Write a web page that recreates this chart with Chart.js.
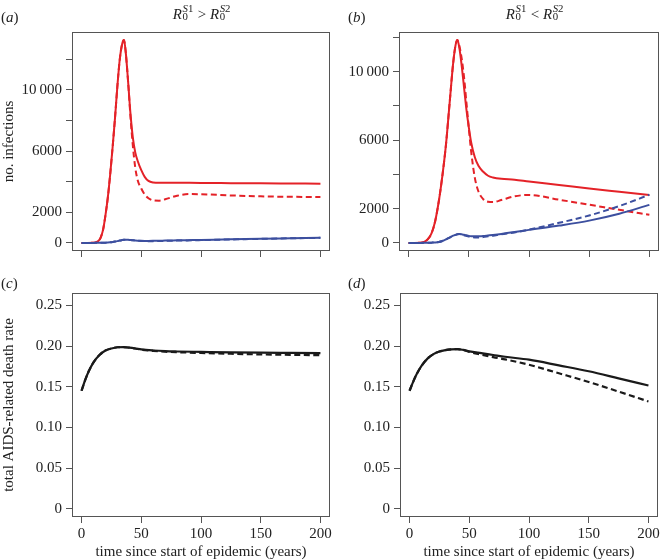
<!DOCTYPE html>
<html>
<head>
<meta charset="utf-8">
<title>HIV strain competition</title>
<script src="https://cdn.jsdelivr.net/npm/chart.js@4.4.1/dist/chart.umd.min.js"></script>
<style>
  html, body { margin: 0; padding: 0; background: #fff; overflow: hidden; }
  #page { position: relative; width: 660px; height: 560px; overflow: hidden;
          font-family: 'Liberation Serif', 'Times New Roman', serif; color: #222; }
  canvas { position: absolute; }
  .tag { position: absolute; font-size: 15px; line-height: 15px; }
  .ttl { position: absolute; top: 7px; font-size: 15px; line-height: 15px;
         white-space: nowrap; transform: translateX(-50%); }
  .st { display: inline-block; position: relative; width: 12px; height: 10px; }
  .st span { position: absolute; left: 0.5px; font-size: 10.8px; line-height: 10.8px; }
  .st .up { bottom: 5px; }
  .st .dn { bottom: -3px; }
</style>
</head>
<body>
<div id="page">
  <canvas id="chartA" width="345" height="270" style="left:0;top:0"></canvas>
  <canvas id="chartB" width="335" height="270" style="left:330px;top:0"></canvas>
  <canvas id="chartC" width="345" height="290" style="left:0;top:270px"></canvas>
  <canvas id="chartD" width="335" height="290" style="left:330px;top:270px"></canvas>

  <div class="tag" style="left:1px;top:10px">(<i>a</i>)</div>
  <div class="tag" style="left:348px;top:10px">(<i>b</i>)</div>
  <div class="tag" style="left:1px;top:276px">(<i>c</i>)</div>
  <div class="tag" style="left:348px;top:276px">(<i>d</i>)</div>

  <div class="ttl" style="left:202px"><i>R</i><span class="st"><span class="up"><i>S</i>1</span><span class="dn">0</span></span> &gt; <i>R</i><span class="st"><span class="up"><i>S</i>2</span><span class="dn">0</span></span></div>
  <div class="ttl" style="left:535px"><i>R</i><span class="st"><span class="up"><i>S</i>1</span><span class="dn">0</span></span> &lt; <i>R</i><span class="st"><span class="up"><i>S</i>2</span><span class="dn">0</span></span></div>
</div>

<script>
// ---------------------------------------------------------------
// DATA
// ---------------------------------------------------------------
const xTicks = [0, 50, 100, 150, 200];
const yTicksTop = [0, 2000, 4000, 6000, 8000, 10000, 12000];
const yLabelledTop = [0, 2000, 6000, 10000];
const yTicksDeath = [0, 0.05, 0.10, 0.15, 0.20, 0.25];

// panel (a): R0 S1 > R0 S2
const yearsA = [0, 5, 10, 12, 14, 16, 18, 20, 22, 24, 26, 28, 30, 32, 34, 35.5, 37, 39, 41, 43,
                45, 47, 50, 53, 56, 60, 65, 70, 80, 90, 100, 125, 150, 175, 200];
const redSolidA = [0, 0, 10, 35, 120, 350, 850, 1800, 2970, 4500, 6250, 8150, 10250, 12000, 13000, 13250, 12450, 10500, 8400, 6850,
                   5900, 5350, 4750, 4300, 4050, 3950, 3930, 3930, 3930, 3925, 3920, 3905, 3890, 3880, 3870];
const redDashA = [0, 0, 10, 35, 120, 350, 850, 1800, 2970, 4500, 6250, 8150, 10250, 12000, 13000, 13250, 12450, 10500, 8200, 6300,
                  4900, 4100, 3550, 3150, 2920, 2780, 2760, 2850, 3080, 3190, 3180, 3100, 3040, 3010, 3000];
const blueSolidA = [0, 0, 0, 2, 4, 6, 10, 15, 25, 40, 60, 85, 115, 150, 185, 205, 210, 200, 185, 170,
                    155, 145, 135, 130, 130, 133, 140, 150, 165, 180, 195, 235, 270, 300, 330];
const blueDashA = [0, 0, 0, 2, 4, 6, 10, 15, 25, 40, 60, 85, 115, 150, 185, 205, 210, 200, 185, 165,
                   148, 135, 122, 115, 113, 115, 120, 130, 148, 165, 182, 225, 265, 300, 330];

// panel (b): R0 S1 < R0 S2
const yearsB = [0, 5, 10, 13, 16, 19, 22, 25, 28, 31, 34, 37, 39, 40.5, 42, 44, 46, 48, 50, 52,
                55, 58, 62, 66, 70, 77, 88, 100, 125, 150, 175, 200];
const redSolidB = [0, 0, 10, 60, 220, 550, 1250, 2400, 3900, 5720, 8120, 10500, 11550, 11840, 11450, 10400, 9100, 7800, 6750, 5850,
                   5000, 4500, 4150, 3920, 3820, 3740, 3690, 3580, 3380, 3170, 2980, 2790];
const redDashB = [0, 0, 10, 60, 220, 550, 1250, 2400, 3900, 5720, 8120, 10500, 11550, 11840, 11550, 10800, 9700, 8200, 6700, 5300,
                  3800, 3000, 2550, 2400, 2380, 2500, 2720, 2800, 2520, 2230, 1930, 1640];
const blueSolidB = [0, 0, 0, 3, 8, 15, 25, 50, 110, 200, 310, 420, 470, 500, 515, 500, 470, 440, 410, 390,
                    380, 385, 400, 430, 460, 520, 630, 760, 1010, 1300, 1700, 2220];
const blueDashB = [0, 0, 0, 3, 8, 15, 25, 50, 110, 200, 310, 420, 470, 500, 515, 490, 450, 405, 365, 340,
                   320, 320, 340, 380, 420, 500, 610, 770, 1170, 1600, 2150, 2810];

// panels (c) and (d): total AIDS-related death rate
const yearsDeath = [0, 3, 6, 10, 15, 20, 25, 30, 35, 40, 45, 50, 60, 70, 80, 100, 125, 150, 175, 200];
const deathSolidC = [0.145, 0.158, 0.169, 0.180, 0.189, 0.1945, 0.197, 0.1985, 0.1987, 0.198,
                     0.197, 0.1958, 0.1945, 0.1937, 0.1933, 0.1928, 0.1922, 0.1918, 0.1915, 0.1912];
const deathDashC = [0.145, 0.158, 0.169, 0.180, 0.189, 0.1945, 0.197, 0.1985, 0.1987, 0.198,
                    0.197, 0.1955, 0.1940, 0.1930, 0.1924, 0.1915, 0.1905, 0.1897, 0.1892, 0.1888];
const deathSolidD = [0.145, 0.156, 0.1655, 0.1755, 0.1845, 0.190, 0.1932, 0.195, 0.196, 0.1962,
                     0.1952, 0.1935, 0.1912, 0.1890, 0.1868, 0.1832, 0.1762, 0.169, 0.1603, 0.1515];
const deathDashD = [0.145, 0.156, 0.1655, 0.1755, 0.1845, 0.190, 0.1932, 0.195, 0.196, 0.1962,
                    0.195, 0.1928, 0.1895, 0.1864, 0.1836, 0.1770, 0.1665, 0.1558, 0.1440, 0.1318];

// ---------------------------------------------------------------
// STYLE
// ---------------------------------------------------------------
const FONT = "'Liberation Serif', 'Times New Roman', serif";
const TXT = '#222';
const AXIS = '#555';
const RED = '#e42228';
const BLUE = '#3c4f9f';
const BLACK = '#1a1a1a';

// frame round the plotting region, like R's box()
const boxPlugin = {
  id: 'box',
  afterDraw(chart) {
    const { ctx, chartArea: a } = chart;
    ctx.save();
    ctx.strokeStyle = AXIS;
    ctx.lineWidth = 1;
    ctx.strokeRect(Math.round(a.left) + 0.5, Math.round(a.top) + 0.5,
                   Math.round(a.right - a.left) - 1, Math.round(a.bottom - a.top) - 1);
    ctx.restore();
  }
};

function pts(xs, ys) {
  return xs.map((x, i) => ({ x: x, y: ys[i] }));
}

function line(xs, ys, color, dashed, width) {
  return {
    data: pts(xs, ys),
    borderColor: color,
    borderWidth: width,
    borderDash: dashed ? [6, 3.5] : [],
    fill: false
  };
}

function fmtCount(v) {
  if (!yLabelledTop.includes(v)) return '';
  if (v >= 10000) return Math.floor(v / 1000) + '\u2009' + String(v % 1000).padStart(3, '0');
  return String(v);
}

function fmtRate(v) {
  return v === 0 ? '0' : v.toFixed(2);
}

function drawPanel(id, cfg) {
  const el = document.getElementById(id);
  return new Chart(el, {
    type: 'line',
    data: { datasets: cfg.datasets },
    options: {
      responsive: false,
      animation: false,
      events: [],
      layout: { padding: cfg.pad },
      plugins: { legend: { display: false }, tooltip: { enabled: false } },
      elements: {
        point: { radius: 0 },
        line: { cubicInterpolationMode: 'monotone', borderCapStyle: 'butt' }
      },
      scales: {
        x: {
          type: 'linear', min: -8, max: 208,
          afterBuildTicks: s => { s.ticks = xTicks.map(v => ({ value: v })); },
          afterFit: s => { s.height = cfg.xHeight; },
          grid: { drawOnChartArea: false, tickLength: 6, color: AXIS, tickColor: AXIS },
          border: { display: false },
          ticks: { display: cfg.xLabels, padding: 2, maxRotation: 0, color: TXT,
                   font: { family: FONT, size: 15 } },
          title: { display: !!cfg.xTitle, text: cfg.xTitle || '', color: TXT, padding: 0,
                   font: { family: FONT, size: 15, lineHeight: 1 } }
        },
        y: {
          type: 'linear', min: cfg.yMin, max: cfg.yMax,
          afterBuildTicks: s => { s.ticks = cfg.yTicks.map(v => ({ value: v })); },
          afterFit: s => { s.width = cfg.yWidth; },
          grid: { drawOnChartArea: false, tickLength: 6, color: AXIS, tickColor: AXIS },
          border: { display: false },
          ticks: { padding: 4, color: TXT, callback: cfg.yFmt,
                   font: { family: FONT, size: 15 } },
          title: { display: !!cfg.yTitle, text: cfg.yTitle || '', color: TXT,
                   padding: { top: 2, bottom: 0 },
                   font: { family: FONT, size: 15, lineHeight: 1 } }
        }
      }
    },
    plugins: [boxPlugin]
  });
}

// ---------------------------------------------------------------
// PANELS
// ---------------------------------------------------------------
drawPanel('chartA', {
  pad: { top: 32, right: 15, left: 0, bottom: 0 },
  yWidth: 72, xHeight: 19, xLabels: false,
  yMin: -530, yMax: 13780, yTicks: yTicksTop, yFmt: fmtCount,
  yTitle: 'no. infections',
  datasets: [
    line(yearsA, blueDashA, BLUE, true, 2),
    line(yearsA, blueSolidA, BLUE, false, 2),
    line(yearsA, redDashA, RED, true, 2),
    line(yearsA, redSolidA, RED, false, 2)
  ]
});

drawPanel('chartB', {
  pad: { top: 32, right: 6, left: 0, bottom: 0 },
  yWidth: 69, xHeight: 19, xLabels: false,
  yMin: -474, yMax: 12314, yTicks: yTicksTop, yFmt: fmtCount,
  datasets: [
    line(yearsB, blueDashB, BLUE, true, 2),
    line(yearsB, blueSolidB, BLUE, false, 2),
    line(yearsB, redDashB, RED, true, 2),
    line(yearsB, redSolidB, RED, false, 2)
  ]
});

drawPanel('chartC', {
  pad: { top: 23, right: 15, left: 0, bottom: 0 },
  yWidth: 72, xHeight: 43, xLabels: true,
  yMin: -0.0102, yMax: 0.2652, yTicks: yTicksDeath, yFmt: fmtRate,
  yTitle: 'total AIDS-related death rate',
  xTitle: 'time since start of epidemic (years)',
  datasets: [
    line(yearsDeath, deathDashC, BLACK, true, 2.2),
    line(yearsDeath, deathSolidC, BLACK, false, 2.2)
  ]
});

drawPanel('chartD', {
  pad: { top: 23, right: 7, left: 0, bottom: 0 },
  yWidth: 70, xHeight: 43, xLabels: true,
  yMin: -0.0102, yMax: 0.2652, yTicks: yTicksDeath, yFmt: fmtRate,
  xTitle: 'time since start of epidemic (years)',
  datasets: [
    line(yearsDeath, deathDashD, BLACK, true, 2.2),
    line(yearsDeath, deathSolidD, BLACK, false, 2.2)
  ]
});
</script>
</body>
</html>
